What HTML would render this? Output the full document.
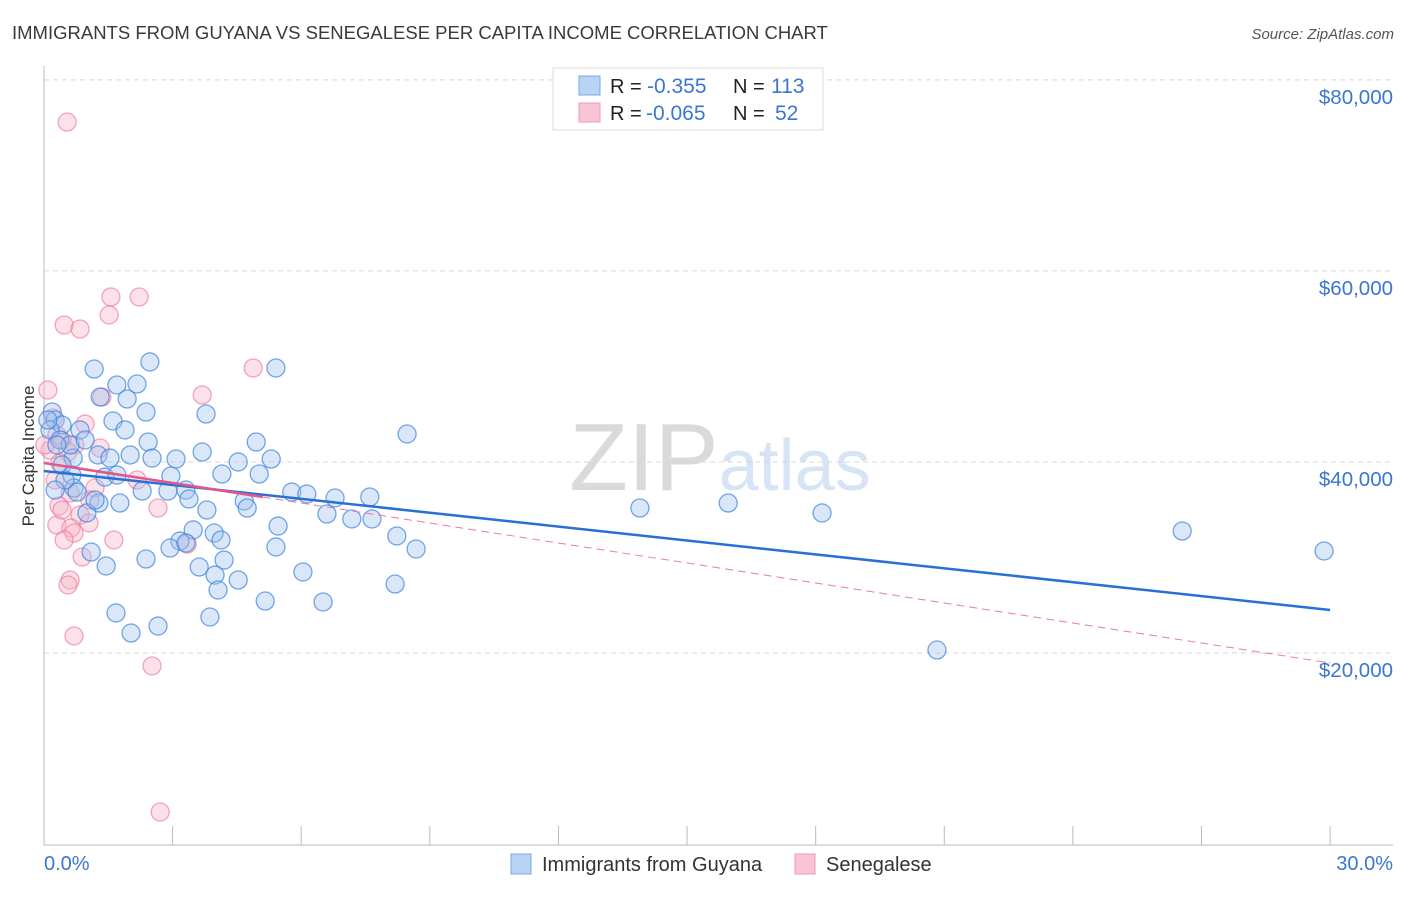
<!DOCTYPE html>
<html><head><meta charset="utf-8"><style>
body{margin:0;background:#fff;font-family:"Liberation Sans",sans-serif;}
svg text{font-family:"Liberation Sans",sans-serif;}
</style></head><body>
<svg id="chart" width="1406" height="892" xmlns="http://www.w3.org/2000/svg">
<text x="12" y="39" font-size="18.5" fill="#3a3a3a">IMMIGRANTS FROM GUYANA VS SENEGALESE PER CAPITA INCOME CORRELATION CHART</text>
<text x="1394" y="39" font-size="15" fill="#555" font-style="italic" text-anchor="end">Source: ZipAtlas.com</text>
<text x="720" y="490" font-size="96" fill="#e4e4e4" text-anchor="middle" font-family="Liberation Serif"><tspan fill="#dadada">ZIP</tspan><tspan fill="#d6e4f5" font-family="Liberation Sans" font-size="72">atlas</tspan></text>
<text transform="translate(34,456) rotate(-90)" font-size="17" fill="#333" text-anchor="middle">Per Capita Income</text>
<g id="grid"></g><g id="axes"></g><g id="pink"></g><g id="blue"></g><g id="lines"></g>
<g>
<rect x="553" y="68" width="270" height="62" fill="#fff" stroke="#ddd"/>
<rect x="579" y="76" width="21" height="19" fill="#b9d3f3" stroke="#7aa8e6"/>
<rect x="579" y="103" width="21" height="19" fill="#f8c5d5" stroke="#ee9ab4"/>
<text x="610" y="93" font-size="20" fill="#222">R =<tspan fill="#3a76d2" x="647" font-size="21">-0.355</tspan><tspan x="733">N =</tspan><tspan fill="#3a76d2" x="771" font-size="21">113</tspan></text>
<text x="610" y="120" font-size="20" fill="#222">R =<tspan fill="#3a76d2" x="646" font-size="21">-0.065</tspan><tspan x="733">N =</tspan><tspan fill="#3a76d2" x="775" font-size="21">52</tspan></text>
</g>
<g>
<rect x="511" y="854" width="20" height="20" fill="#b9d3f3" stroke="#7aa8e6"/>
<text x="542" y="871" font-size="20" fill="#333">Immigrants from Guyana</text>
<rect x="795" y="854" width="20" height="20" fill="#f8c5d5" stroke="#ee9ab4"/>
<text x="826" y="871" font-size="20" fill="#333">Senegalese</text>
</g>
</svg>
<script>
const yTicks=[20000,40000,60000,80000];
const yTickLabels=["$20,000","$40,000","$60,000","$80,000"];
const xTickLabels=["0.0%","30.0%"];
const blueX=[1.17,2.47,5.41,1.70,2.17,1.31,1.94,1.61,2.38,3.78,8.47,1.89,4.95,2.43,3.69,3.08,4.53,5.30,2.52,1.26,1.54,0.68,0.42,4.15,5.02,2.96,0.65,1.42,0.70,0.77,2.29,2.89,3.31,5.78,6.13,6.79,7.60,13.90,15.96,18.15,4.67,4.74,1.77,1.28,1.00,6.60,7.18,7.65,3.80,3.38,3.48,3.97,4.13,5.46,8.23,8.68,26.55,29.86,3.17,2.94,3.31,5.41,1.10,2.38,1.45,3.62,4.20,3.99,6.04,4.53,4.06,8.19,5.16,6.51,1.68,3.87,2.03,2.66,20.83,0.19,0.26,0.42,0.14,0.37,0.84,0.61,0.96,0.30,0.09,0.49,0.26,1.19,2.01,1.70];
const blueY=[49730,50470,49840,48060,48160,46800,46590,44290,45230,45020,42930,43350,42090,42090,41040,40310,40000,40310,40410,40730,40410,40410,39680,38740,38740,38530,38630,38420,37270,36850,36960,36960,37060,36850,36640,36230,36330,35180,35700,34660,35910,35180,35700,35700,34660,34550,34030,34030,34970,36120,32880,32560,31830,33290,32250,30890,32770,30680,31720,30990,31510,31100,30570,29840,29110,29000,29730,28160,28480,27640,26590,27220,25440,25340,24190,23770,22090,22820,20310,45230,44390,43870,43350,42300,43350,41780,42300,41780,44390,38110,37060,36020,40730,38630];
const pinkX=[0.54,1.56,2.22,1.52,0.47,0.84,4.88,3.69,1.35,0.09,0.96,0.72,1.31,0.30,0.42,0.14,0.56,2.17,1.19,0.61,0.35,2.66,0.84,1.05,0.30,0.63,0.70,0.47,1.63,3.34,0.89,0.61,0.56,0.70,2.52,2.71,0.26,0.37,0.02,0.21,1.07,0.42];
const pinkY=[75590,57270,57270,55390,54340,53920,49840,47010,46800,47530,43970,41780,41460,42820,42300,41250,41040,38110,37270,36750,35390,35180,34450,33610,33400,33090,32560,31830,31830,31410,30050,27640,27120,21780,18640,3350,38110,39890,41780,44600,36020,34970];
const blueTrend=[39050,24500];
const pinkTrend=[39890,18950];
const X=v=>44+v*42.87, Y=v=>844-v/104.7;
const NS="http://www.w3.org/2000/svg";
function mk(t,a,p){const e=document.createElementNS(NS,t);for(const k in a)e.setAttribute(k,a[k]);document.getElementById(p).appendChild(e);return e;}
yTicks.forEach((v,i)=>{
 const g=mk('line',{x1:44,x2:1393,y1:Y(v),y2:Y(v),stroke:'#d8d8d8','stroke-dasharray':'5,4'},'grid');
 
 
 const t=mk('text',{x:1393,y:Y(v)+24,'font-size':20.5,fill:'#3a76d2','text-anchor':'end'},'axes');
 t.textContent=yTickLabels[i];
 
 
});
let a=mk('line',{x1:44,x2:44,y1:66,y2:845,stroke:'#bbb'},'axes');


a=mk('line',{x1:44,x2:1393,y1:845,y2:845,stroke:'#bbb'},'axes');


for(let i=1;i<=10;i++){const t=mk('line',{x1:X(i*3),x2:X(i*3),y1:826,y2:845,stroke:'#bbb'},'axes');
 
 }
[[0,44,'start'],[30,1393,'end']].forEach((d,i)=>{const t=mk('text',{x:d[1],y:870,'font-size':20,fill:'#3a76d2','text-anchor':d[2]},'axes');t.textContent=xTickLabels[i];
 
 });
pinkX.forEach((x,i)=>{const c=mk('circle',{cx:X(x),cy:Y(pinkY[i]),r:9,fill:'rgba(248,180,200,0.4)',stroke:'rgba(236,120,155,0.65)','stroke-width':1.3},'pink');
 
 });
blueX.forEach((x,i)=>{const c=mk('circle',{cx:X(x),cy:Y(blueY[i]),r:9,fill:'rgba(160,196,240,0.4)',stroke:'rgba(60,130,220,0.7)','stroke-width':1.3},'blue');
 
 });
let l=mk('line',{x1:X(0),y1:Y(blueTrend[0]),x2:X(30),y2:Y(blueTrend[1]),stroke:'#2a6fd6','stroke-width':2.5},'lines');


const py=x=>pinkTrend[0]+(pinkTrend[1]-pinkTrend[0])*x/30;
l=mk('line',{x1:X(5.1),y1:Y(py(5.1)),x2:X(30),y2:Y(pinkTrend[1]),stroke:'#e87ca0','stroke-width':1,'stroke-dasharray':'8,5'},'lines');


l=mk('line',{x1:X(0),y1:Y(pinkTrend[0]),x2:X(5.1),y2:Y(py(5.1)),stroke:'#e3568a','stroke-width':2.5},'lines');


</script>
</body></html>
